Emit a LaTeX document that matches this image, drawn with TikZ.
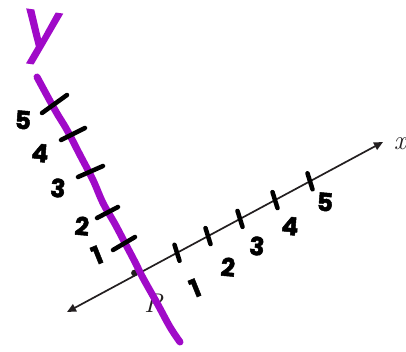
\documentclass[tikz,border=0pt]{standalone}
\usepackage{fontspec}
\newfontfamily\hand{Poppins}[FakeBold=2]
\usetikzlibrary{arrows.meta}
\definecolor{ypurple}{RGB}{160,10,200}
\definecolor{axisgray}{RGB}{35,31,32}
\tikzset{
  xaxis/.style={line width=1.7pt, draw=axisgray, {Triangle[length=9pt,width=8pt]}-{Triangle[length=9pt,width=8pt]}},
  tickmark/.style={line width=4.5pt, line cap=round, draw=black},
  yline/.style={line width=7pt, line cap=round, line join=round, draw=ypurple},
  numlbl/.style={font=\hand\bfseries\fontsize{25}{25}\selectfont, text=black, inner sep=0pt},
  onelbl/.style={numlbl, rotate=22},
}
\begin{document}
\begin{tikzpicture}[x=1pt,y=-1pt]
\useasboundingbox (0,0) rectangle (406,352);
% x axis
\coordinate (xl) at (67,312);
\coordinate (xr) at (383,142);
\draw[xaxis] (xl) -- (xr);
\node[font=\itshape\fontsize{27}{27}\selectfont, text=axisgray, inner sep=0pt] (xlab) at (400,144) {x};
\fill[axisgray] (134.5,273) circle (3.4pt);
\node[font=\itshape\fontsize{27}{27}\selectfont, text=axisgray, inner sep=0pt] (plab) at (153,303) {P};
% x ticks
\foreach \t/\yy in {177/252.8, 208/236.1, 240/218.9, 275/200.1, 310/181.3}
  \draw[tickmark] (\t-2.5,\yy-8) -- (\t+2.5,\yy+8);
% x labels
\node[onelbl] (x1) at (195,288) {1};
\node[numlbl, rotate=-5] (x2) at (228,267) {2};
\node[numlbl, rotate=-5] (x3) at (257,246) {3};
\node[numlbl, rotate=-5] (x4) at (290,226) {4};
\node[numlbl, rotate=-5] (x5) at (325,202) {5};
% purple y axis
\draw[yline] plot[smooth, tension=0.6] coordinates {(37,77) (55,110) (67,130) (80,155) (93,180) (103,203) (115,224) (125,243) (135,262) (143,278) (157,303) (170,327) (180,342)};
% y ticks
\draw[tickmark] (42,113) -- (67,95);
\draw[tickmark] (61,140) -- (85,128);
\draw[tickmark] (78,177) -- (103,166);
\draw[tickmark] (97,218) -- (118,207);
\draw[tickmark] (113,250) -- (135,237);
% y labels
\node[numlbl, rotate=-5] (y5) at (23,120) {5};
\node[numlbl, rotate=-5] (y4) at (40,153) {4};
\node[numlbl, rotate=-5] (y3) at (58,188) {3};
\node[numlbl, rotate=-5] (y2) at (82,226) {2};
\node[onelbl] (y1) at (97,255) {1};
% y label
\node[font=\hand\fontsize{66}{66}\selectfont, text=ypurple, inner sep=0pt, rotate=-8] (ylab) at (41,38) {y};
\end{tikzpicture}
\end{document}
